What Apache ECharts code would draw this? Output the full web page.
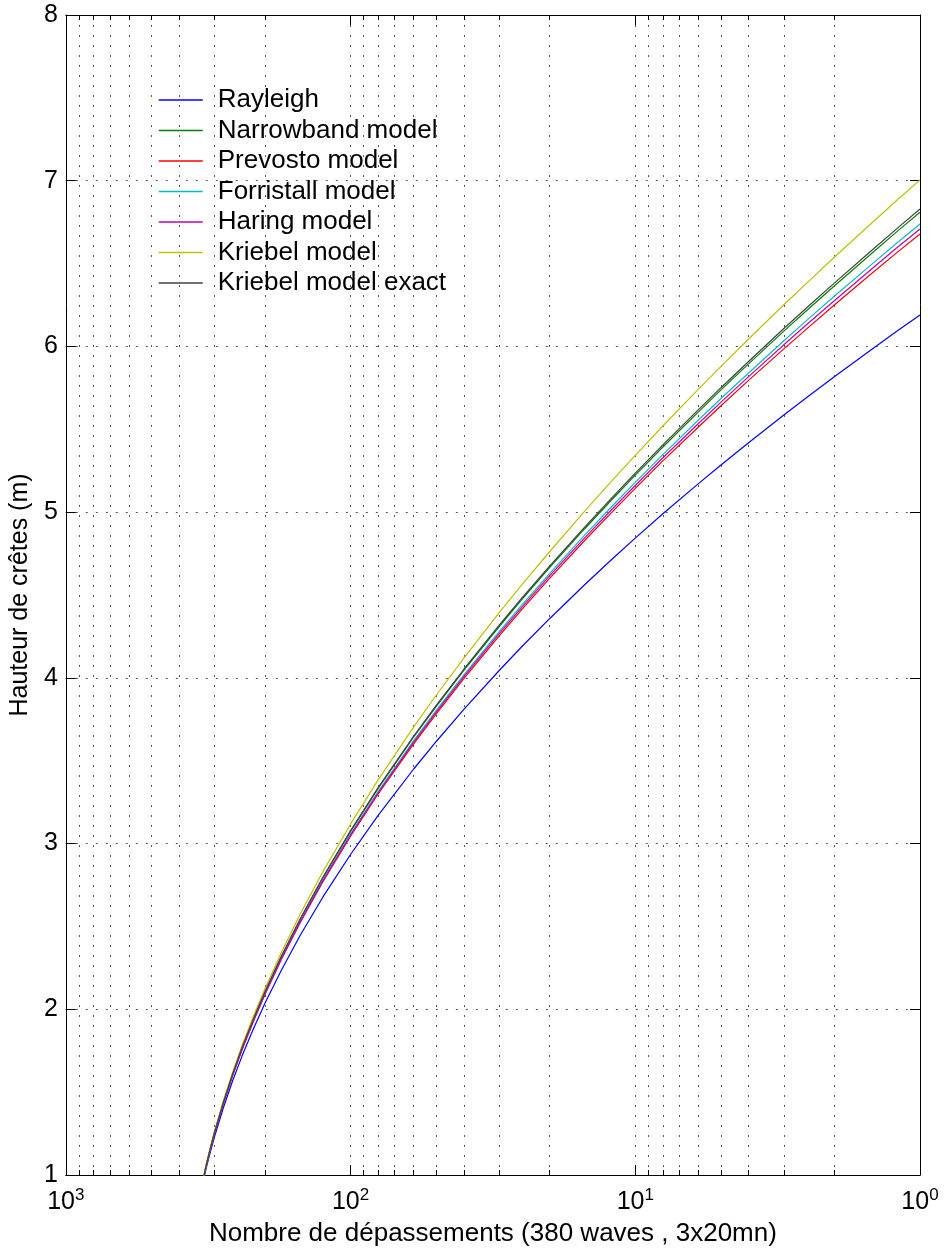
<!DOCTYPE html>
<html>
<head>
<meta charset="utf-8">
<script src="https://cdn.jsdelivr.net/npm/echarts@6/dist/echarts.min.js"></script>
<style>
  html, body { margin: 0; padding: 0; background: #fff; }
  #chart { width: 947px; height: 1257px; }
</style>
</head>
<body>
<div id="chart"></div>
<script>
// number of exceedances (x, log scale, reversed)
const exceedances = [340, 330, 320, 310, 300, 280, 260, 240, 220, 200, 175, 150, 125, 100, 80, 60, 50, 40, 30, 25, 20, 15, 12, 10, 8, 6, 5, 4, 3, 2.5, 2, 1.5, 1.2, 1]

// crest heights (m)
const rayleigh = [0.847, 0.954, 1.053, 1.146, 1.235, 1.403, 1.564, 1.722, 1.877, 2.035, 2.236, 2.448, 2.678, 2.934, 3.170, 3.450, 3.616, 3.810, 4.046, 4.189, 4.357, 4.565, 4.720, 4.843, 4.990, 5.172, 5.285, 5.419, 5.588, 5.692, 5.817, 5.974, 6.094, 6.189]
const narrowband = [0.859, 0.969, 1.071, 1.167, 1.260, 1.435, 1.604, 1.770, 1.934, 2.102, 2.317, 2.545, 2.794, 3.073, 3.333, 3.643, 3.828, 4.045, 4.311, 4.473, 4.665, 4.903, 5.081, 5.223, 5.393, 5.605, 5.738, 5.895, 6.094, 6.217, 6.365, 6.552, 6.696, 6.810]
const prevosto = [0.856, 0.966, 1.067, 1.163, 1.255, 1.428, 1.595, 1.760, 1.922, 2.088, 2.300, 2.525, 2.770, 3.044, 3.299, 3.602, 3.783, 3.996, 4.255, 4.413, 4.600, 4.832, 5.005, 5.143, 5.309, 5.514, 5.642, 5.795, 5.987, 6.106, 6.250, 6.431, 6.569, 6.679]
const forristall = [0.857, 0.967, 1.069, 1.165, 1.257, 1.431, 1.599, 1.765, 1.928, 2.094, 2.308, 2.534, 2.781, 3.058, 3.314, 3.621, 3.804, 4.018, 4.281, 4.441, 4.629, 4.864, 5.040, 5.180, 5.347, 5.556, 5.686, 5.840, 6.036, 6.157, 6.303, 6.486, 6.627, 6.739]
const haring = [0.857, 0.966, 1.068, 1.164, 1.256, 1.430, 1.597, 1.762, 1.925, 2.091, 2.304, 2.529, 2.775, 3.051, 3.306, 3.612, 3.793, 4.007, 4.268, 4.427, 4.615, 4.848, 5.022, 5.161, 5.328, 5.535, 5.664, 5.818, 6.012, 6.132, 6.276, 6.458, 6.598, 6.709]
const kriebel = [0.862, 0.973, 1.077, 1.174, 1.268, 1.445, 1.616, 1.785, 1.952, 2.123, 2.343, 2.576, 2.831, 3.117, 3.384, 3.704, 3.895, 4.119, 4.395, 4.563, 4.761, 5.009, 5.195, 5.343, 5.520, 5.742, 5.880, 6.045, 6.253, 6.382, 6.538, 6.734, 6.885, 7.005]
const kriebelExact = [0.859, 0.969, 1.072, 1.168, 1.261, 1.436, 1.605, 1.772, 1.936, 2.104, 2.320, 2.548, 2.798, 3.078, 3.338, 3.649, 3.834, 4.052, 4.319, 4.482, 4.674, 4.913, 5.092, 5.235, 5.406, 5.619, 5.751, 5.909, 6.110, 6.233, 6.382, 6.570, 6.714, 6.829]

const seriesNames = ['Rayleigh', 'Narrowband model', 'Prevosto model', 'Forristall model', 'Haring model', 'Kriebel model', 'Kriebel model exact']
const seriesValues = [rayleigh, narrowband, prevosto, forristall, haring, kriebel, kriebelExact]
const seriesColors = ['#0000ff', '#008000', '#ff0000', '#00bfbf', '#bf00bf', '#bfbf00', '#404040']

const FONT = '"Liberation Sans", Arial, Helvetica, sans-serif'
const dotted = { color: '#555', width: 1, type: [2, 8] }

function logAxis(position, withLabels) {
  return {
    type: 'log',
    logBase: 10,
    min: 1,
    max: 1000,
    inverse: true,
    position,
    axisLine: { show: true, onZero: false, lineStyle: { color: '#000', width: 1 } },
    axisTick: { show: true, inside: true, length: 10, lineStyle: { color: '#000' } },
    minorTick: { show: true, splitNumber: 9, length: 5, lineStyle: { color: '#000' } },
    splitLine: { show: withLabels, lineStyle: dotted },
    minorSplitLine: { show: withLabels, lineStyle: dotted },
    axisLabel: {
      show: withLabels,
      margin: 12,
      formatter: v => '{b|10}{s|' + Math.round(Math.log10(v)) + '}',
      rich: {
        b: { fontSize: 25, fontFamily: FONT, color: '#000' },
        s: { fontSize: 17, fontFamily: FONT, color: '#000', padding: [0, 0, 13, 0] },
      },
    },
  }
}

function valueAxis(position, withLabels) {
  return {
    type: 'value',
    min: 1,
    max: 8,
    interval: 1,
    position,
    axisLine: { show: true, onZero: false, lineStyle: { color: '#000', width: 1 } },
    axisTick: { show: true, inside: true, length: 10, lineStyle: { color: '#000' } },
    splitLine: { show: withLabels, lineStyle: dotted },
    axisLabel: { show: withLabels, margin: 8, fontSize: 25, fontFamily: FONT, color: '#000' },
  }
}

const bottomAxis = logAxis('bottom', true)
bottomAxis.name = 'Nombre de dépassements (380 waves , 3x20mn)'
bottomAxis.nameLocation = 'middle'
bottomAxis.nameGap = 46
bottomAxis.nameTextStyle = { fontSize: 26, fontFamily: FONT, color: '#000' }

const leftAxis = valueAxis('left', true)
leftAxis.name = 'Hauteur de crêtes (m)'
leftAxis.nameLocation = 'middle'
leftAxis.nameGap = 27
leftAxis.nameTextStyle = { fontSize: 25, fontFamily: FONT, color: '#000' }

const chart = echarts.init(document.getElementById('chart'), null, { renderer: 'canvas' })

chart.setOption({
  animation: false,
  backgroundColor: '#fff',
  grid: { left: 62, right: 27, top: 15, bottom: 82, containLabel: false },
  legend: {
    orient: 'vertical',
    left: 158,
    top: 87,
    padding: 0,
    itemWidth: 44,
    itemHeight: 14,
    itemGap: 4.5,
    itemStyle: { opacity: 0 },
    lineStyle: { width: 1.5 },
    textStyle: { fontSize: 26, fontFamily: FONT, color: '#000', lineHeight: 26, padding: [0, 0, 0, 10] },
    data: seriesNames,
  },
  xAxis: [bottomAxis, logAxis('top', false)],
  yAxis: [leftAxis, valueAxis('right', false)],
  series: seriesNames.map((name, i) => ({
    name,
    type: 'line',
    xAxisIndex: 0,
    yAxisIndex: 0,
    symbol: 'none',
    smooth: false,
    clip: true,
    color: seriesColors[i],
    lineStyle: { color: seriesColors[i], width: 1.2 },
    data: exceedances.map((n, j) => [n, seriesValues[i][j]]),
  })),
})
</script>
</body>
</html>
